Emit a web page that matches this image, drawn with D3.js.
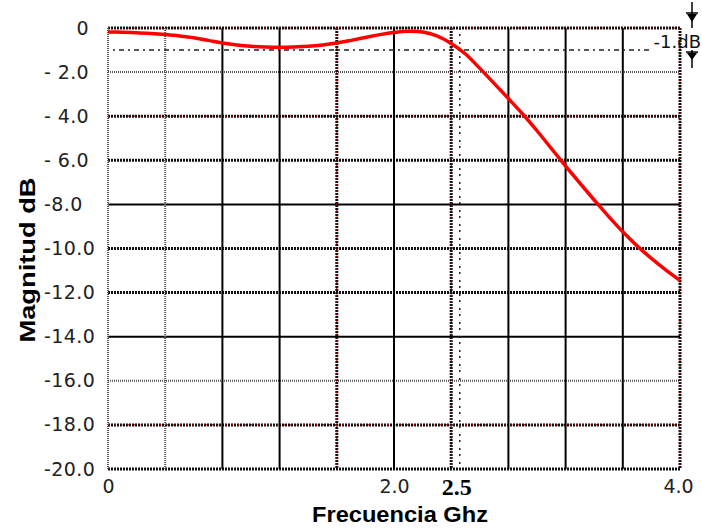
<!DOCTYPE html>
<html><head><meta charset="utf-8">
<script src="https://cdn.jsdelivr.net/npm/d3@7"></script>
<style>body{margin:0;background:#fff}</style>
</head><body><svg id="c" width="702" height="531"></svg>
<script>
// ---- data ----
const freqGHz = [0,0.1,0.2,0.3,0.4,0.5,0.6,0.7,0.8,0.9,1.0,1.1,1.2,1.3,1.4,1.5,1.6,1.7,1.8,1.9,2.0,2.1,2.2,2.3,2.4,2.5,2.6,2.7,2.8,2.9,3.0,3.1,3.2,3.3,3.4,3.5,3.6,3.7,3.8,3.9,4.0];
const magnitudeDb = [-0.18,-0.19,-0.21,-0.25,-0.3,-0.36,-0.44,-0.56,-0.68,-0.77,-0.83,-0.86,-0.87,-0.86,-0.83,-0.77,-0.68,-0.56,-0.43,-0.3,-0.2,-0.15,-0.18,-0.36,-0.7,-1.18,-1.83,-2.51,-3.2,-3.9,-4.66,-5.46,-6.26,-7.04,-7.8,-8.54,-9.24,-9.88,-10.45,-10.97,-11.45];
const yTickValues = [0,-2,-4,-6,-8,-10,-12,-14,-16,-18,-20];
const yTickLabels = ["0","- 2.0","- 4.0","- 6.0","-8.0","-10.0","-12.0","-14.0","-16.0","-18.0","-20.0"];
const xGridValues = [0,0.4,0.8,1.2,1.6,2.0,2.4,2.8,3.2,3.6,4.0];
const xTickValues = [0,2,4];
const xTickLabels = ["0","2.0","4.0"];
const markerFreq = 2.46;
const markerLabel = "2.5";
const refLevelDb = -1;
const refLabel = "-1.dB";
const xTitle = "Frecuencia Ghz";
const yTitle = "Magnitud dB";

// ---- styles (kept apart from data) ----
const yGridKind = ["rb","thin","rb","dot","solid","dot","dot","solid","thin","rb","dot"];
const xGridKind = ["thin","thin","solid","solid","rb","solid","rb","solid","solid","solid","rb"];

const svg = d3.select("#c");
const L = 108, R = 680, T = 28, B = 469;
const x = d3.scaleLinear().domain([0,4]).range([L,R]);
const y = d3.scaleLinear().domain([0,-20]).range([T,B]);

function drawLine(g, x1,y1,x2,y2, kind){
  const add = () => g.append("line").attr("x1",x1).attr("y1",y1).attr("x2",x2).attr("y2",y2);
  if(kind==="solid"){ add().attr("stroke","#000").attr("stroke-width",2); }
  else if(kind==="thin"){ add().attr("stroke","#555").attr("stroke-width",2).attr("stroke-dasharray","1,1"); }
  else if(kind==="dot"){ add().attr("stroke","#111").attr("stroke-width",3).attr("stroke-dasharray","2,1"); }
  else if(kind==="rb"){
    add().attr("stroke","#111").attr("stroke-width",3).attr("stroke-dasharray","2,1");
    add().attr("stroke","#c00").attr("stroke-width",1.2).attr("stroke-dasharray","1.5,5");
  }
}

const grid = svg.append("g");
yTickValues.forEach((v,i)=> drawLine(grid, L, y(v), R, y(v), yGridKind[i]));
xGridValues.forEach((v,i)=> drawLine(grid, x(v), T, x(v), B, xGridKind[i]));

// reference -1 dB dot-dash line
svg.append("line").attr("x1",x(0)+5).attr("x2",x(3.8)).attr("y1",y(refLevelDb)).attr("y2",y(refLevelDb))
  .attr("stroke","#222").attr("stroke-width",1.5).attr("stroke-dasharray","2,4,5,4");
// marker vertical line (2.5)
svg.append("line").attr("x1",x(markerFreq)).attr("x2",x(markerFreq)).attr("y1",T).attr("y2",B)
  .attr("stroke","#222").attr("stroke-width",1.5).attr("stroke-dasharray","2,4,2,6");

// y axis labels
const yAxis = d3.axisLeft(y).tickValues(yTickValues).tickFormat((d,i)=>yTickLabels[i]).tickSize(0).tickPadding(19);
const gy = svg.append("g").attr("transform",`translate(${L},0)`).call(yAxis);
gy.select(".domain").remove();
gy.selectAll("text").attr("font-family","DejaVu Sans, sans-serif").attr("font-size",19).attr("fill","#222")
  .attr("letter-spacing",0.4)
  .each(function(d,i){
    const t = d3.select(this);
    if(yTickLabels[i]==="0"){ t.attr("text-anchor","end").attr("x",-19); }
    else { t.attr("text-anchor","start").attr("x",44-L); }
  });

// x axis labels
const xAxis = d3.axisBottom(x).tickValues(xTickValues).tickFormat((d,i)=>xTickLabels[i]).tickSize(0).tickPadding(11);
const gx = svg.append("g").attr("transform",`translate(0,${B})`).call(xAxis);
gx.select(".domain").remove();
gx.selectAll("text").attr("font-family","DejaVu Sans, sans-serif").attr("font-size",19).attr("fill","#222");
gx.selectAll(".tick").filter(d=>d===4).select("text").attr("x",-2);

// marker label
svg.append("text").attr("x",x(markerFreq)-3).attr("y",495).attr("text-anchor","middle")
  .attr("font-family","Liberation Serif, serif").attr("font-weight","bold").attr("font-size",24).text(markerLabel);

// titles
svg.append("text").attr("x",400).attr("y",522).attr("text-anchor","middle")
  .attr("font-family","Liberation Sans, Arial, sans-serif").attr("font-weight","bold").attr("font-size",22)
  .attr("textLength",176).attr("lengthAdjust","spacingAndGlyphs").text(xTitle);
svg.append("text").attr("transform","translate(35,260) rotate(-90)").attr("text-anchor","middle")
  .attr("font-family","Liberation Sans, Arial, sans-serif").attr("font-weight","bold").attr("font-size",22)
  .attr("textLength",165).attr("lengthAdjust","spacingAndGlyphs").text(yTitle);

// -1 dB marker at top right
const mx = 692;
const mk = svg.append("g").attr("stroke","#000").attr("fill","#000");
mk.append("line").attr("x1",mx).attr("x2",mx).attr("y1",y(0)-26).attr("y2",y(0)).attr("stroke-width",1.5);
mk.append("line").attr("x1",mx-6).attr("x2",mx+6).attr("y1",y(0)-15).attr("y2",y(0)-15).attr("stroke-width",1.5);
mk.append("path").attr("d",d3.line()([[mx-5,y(0)-14],[mx+5,y(0)-14],[mx,y(0)-6]])+"Z").attr("stroke","none");
mk.append("line").attr("x1",mx).attr("x2",mx).attr("y1",y(refLevelDb)).attr("y2",y(refLevelDb)+18).attr("stroke-width",1.5);
mk.append("line").attr("x1",mx-6).attr("x2",mx+6).attr("y1",y(refLevelDb)+2).attr("y2",y(refLevelDb)+2).attr("stroke-width",1.5);
mk.append("path").attr("d",d3.line()([[mx-5,y(refLevelDb)+3],[mx+5,y(refLevelDb)+3],[mx,y(refLevelDb)+10]])+"Z").attr("stroke","none");
svg.append("text").attr("x",701).attr("y",y(refLevelDb)-2).attr("text-anchor","end")
  .attr("font-family","DejaVu Sans, sans-serif").attr("font-size",18).attr("fill","#111").text(refLabel);

// curve
const pts = freqGHz.map((f,i)=>[f, magnitudeDb[i]]);
svg.append("path").datum(pts)
  .attr("d", d3.line().x(d=>x(d[0])).y(d=>y(d[1])).curve(d3.curveCatmullRom))
  .attr("fill","none").attr("stroke","#ff0000").attr("stroke-width",3.5).attr("stroke-linejoin","round");
</script></body></html>
